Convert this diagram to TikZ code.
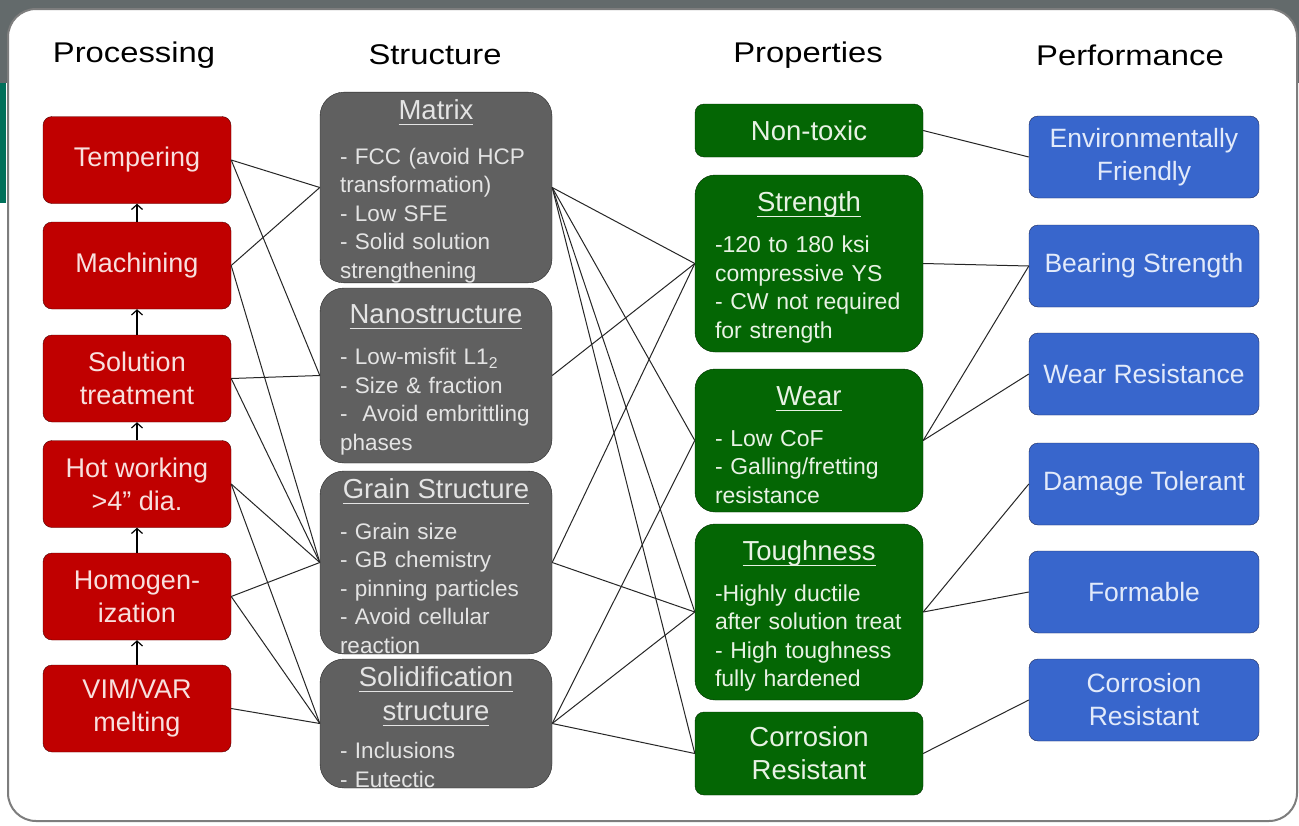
\documentclass[tikz,border=0pt]{standalone}
\usepackage{fontspec}
\setmainfont{Liberation Sans}
\newfontfamily\headfont{Liberation Sans}[FakeStretch=1.15]
\usetikzlibrary{positioning,arrows.meta}

\definecolor{framegray}{RGB}{99,106,107}
\definecolor{frameteal}{RGB}{0,112,90}
\definecolor{panelline}{RGB}{125,125,125}
\definecolor{procred}{RGB}{192,0,0}
\definecolor{procline}{RGB}{80,0,0}
\definecolor{proctext}{RGB}{248,224,222}
\definecolor{strucgray}{RGB}{96,96,96}
\definecolor{strucline}{RGB}{40,40,40}
\definecolor{structext}{RGB}{228,228,228}
\definecolor{propgreen}{RGB}{4,102,4}
\definecolor{propline}{RGB}{0,48,0}
\definecolor{proptext}{RGB}{232,242,228}
\definecolor{perfblue}{RGB}{56,102,204}
\definecolor{perfline}{RGB}{26,40,90}
\definecolor{perftext}{RGB}{226,234,250}

\newsavebox{\titlebox}
\newcommand{\boxuline}[1]{\sbox{\titlebox}{#1}\rlap{\rule[-5.5pt]{\wd\titlebox}{1.1pt}}\usebox{\titlebox}}
\newcommand{\boxsubtitle}[1]{\leavevmode\hbox to \hsize{\hfil{\fontsize{27.5}{28.5}\selectfont\boxuline{#1}}\hfil}}
\newcommand{\boxtitle}[1]{\boxsubtitle{\rule{0pt}{27.5pt}#1}}

\begin{document}
\begin{tikzpicture}[x=1pt, y=-1pt,
	proc/.style={draw=procline, fill=procred, text=proctext, rounded corners=9pt, minimum width=188pt, minimum height=87pt, align=center, font=\fontsize{27}{33}\selectfont},
	struc/.style={draw=strucline, fill=strucgray, text=structext, rounded corners=24pt, minimum width=232pt, text width=192pt, inner xsep=20pt, inner ysep=0pt, align=left, font=\fontsize{22.5}{28.5}\selectfont},
	prop/.style={draw=propline, fill=propgreen, text=proptext, rounded corners=20pt, minimum width=228pt, text width=188pt, inner xsep=20pt, inner ysep=0pt, align=left, font=\fontsize{23}{28.5}\selectfont},
	propone/.style={draw=propline, fill=propgreen, text=proptext, rounded corners=9pt, minimum width=228pt, align=center, font=\fontsize{27.5}{33}\selectfont},
	perf/.style={draw=perfline, fill=perfblue, text=perftext, rounded corners=9pt, minimum width=230pt, minimum height=82pt, align=center, font=\fontsize{26.5}{33}\selectfont},
	head/.style={font=\headfont\fontsize{28.5}{34}\selectfont},
	link/.style={line width=1pt, black!85},
	stepup/.style={-{Straight Barb[length=5pt,width=11pt,line width=1.2pt]}, line width=1.1pt}]
	\useasboundingbox (0,0) rectangle (1299,825);
	\fill[white] (0,0) rectangle (1299,825);
	\fill[framegray] (0,0) rectangle (1299,83);
	\fill[frameteal] (0,83) rectangle (6,203);
	\draw[line width=2pt, draw=panelline, fill=white, rounded corners=28pt] (8,9) rectangle (1297,821);

	\node[head] (proch) at (134,55) {Processing};
	\node[head] (struch) at (435,55) {Structure};
	\node[head] (proph) at (808,55) {Properties};
	\node[head] (perfh) at (1130,55) {Performance};

	\node[proc] (temp) at (137,160) {Tempering};
	\node[proc] (mach) at (137,265.5) {Machining};
	\node[proc] (sol) at (137,378.5) {Solution\\treatment};
	\node[proc] (hot) at (137,484) {Hot working\\>4” dia.};
	\node[proc] (homog) at (137,596.5) {Homogen-\\ization};
	\node[proc] (vim) at (137,708.5) {VIM/VAR\\melting};
	\draw[stepup] (mach) -- (temp);
	\draw[stepup] (sol) -- (mach);
	\draw[stepup] (hot) -- (sol);
	\draw[stepup] (homog) -- (hot);
	\draw[stepup] (vim) -- (homog);

	\node[struc, minimum height=189pt] (matrix) at (436,187.5) {\boxtitle{Matrix}\\[16pt]
		- FCC (avoid HCP\\transformation)\\- Low SFE\\- Solid solution\\strengthening};
	\node[struc, minimum height=175pt] (nano) at (436,375.5) {\boxtitle{Nanostructure}\\[13pt]
		- Low-misfit L1\textsubscript{2}\\- Size \& fraction\\-\ \ Avoid embrittling\\phases};
	\node[struc, minimum height=183pt] (grain) at (436,562.5) {\boxtitle{Grain Structure}\\[12pt]
		- Grain size\\- GB chemistry\\- pinning particles\\- Avoid cellular\\reaction};
	\node[struc, minimum height=129pt] (solid) at (436,723.5) {\boxtitle{Solidification}\\[5.5pt]
		\boxsubtitle{structure}\\[9.5pt]
		- Inclusions\\- Eutectic};

	\node[propone, minimum height=53pt] (nontox) at (809,130.5) {Non-toxic};
	\node[prop, minimum height=177pt] (strength) at (809,263.5) {\boxtitle{Strength}\\[12.5pt]
		-120 to 180 ksi\\compressive YS\\- CW not required\\for strength};
	\node[prop, minimum height=143pt] (wear) at (809,440.5) {\boxtitle{Wear}\\[12.5pt]
		- Low CoF\\- Galling/fretting\\resistance};
	\node[prop, minimum height=176pt] (tough) at (809,612) {\boxtitle{Toughness}\\[12.5pt]
		-Highly ductile\\after solution treat\\- High toughness\\fully hardened};
	\node[propone, minimum height=83pt] (corr) at (809,753.5) {Corrosion\\Resistant};

	\node[perf] (envfr) at (1144,157) {Environmentally\\Friendly};
	\node[perf] (bearing) at (1144,266) {Bearing Strength};
	\node[perf] (wearres) at (1144,374) {Wear Resistance};
	\node[perf] (damage) at (1144,484) {Damage Tolerant};
	\node[perf] (formable) at (1144,592) {Formable};
	\node[perf] (corrres) at (1144,700) {Corrosion\\Resistant};

	\draw[link] (temp.east) -- (matrix.west);
	\draw[link] (temp.east) -- (nano.west);
	\draw[link] (mach.east) -- (matrix.west);
	\draw[link] (mach.east) -- (grain.west);
	\draw[link] (sol.east) -- (nano.west);
	\draw[link] (sol.east) -- (grain.west);
	\draw[link] (hot.east) -- (grain.west);
	\draw[link] (hot.east) -- (solid.west);
	\draw[link] (homog.east) -- (grain.west);
	\draw[link] (homog.east) -- (solid.west);
	\draw[link] (vim.east) -- (solid.west);

	\draw[link] (matrix.east) -- (strength.west);
	\draw[link] (matrix.east) -- (wear.west);
	\draw[link] (matrix.east) -- (tough.west);
	\draw[link] (matrix.east) -- (corr.west);
	\draw[link] (nano.east) -- (strength.west);
	\draw[link] (grain.east) -- (strength.west);
	\draw[link] (grain.east) -- (tough.west);
	\draw[link] (solid.east) -- (wear.west);
	\draw[link] (solid.east) -- (tough.west);
	\draw[link] (solid.east) -- (corr.west);

	\draw[link] (nontox.east) -- (envfr.west);
	\draw[link] (strength.east) -- (bearing.west);
	\draw[link] (wear.east) -- (bearing.west);
	\draw[link] (wear.east) -- (wearres.west);
	\draw[link] (tough.east) -- (damage.west);
	\draw[link] (tough.east) -- (formable.west);
	\draw[link] (corr.east) -- (corrres.west);
\end{tikzpicture}
\end{document}
